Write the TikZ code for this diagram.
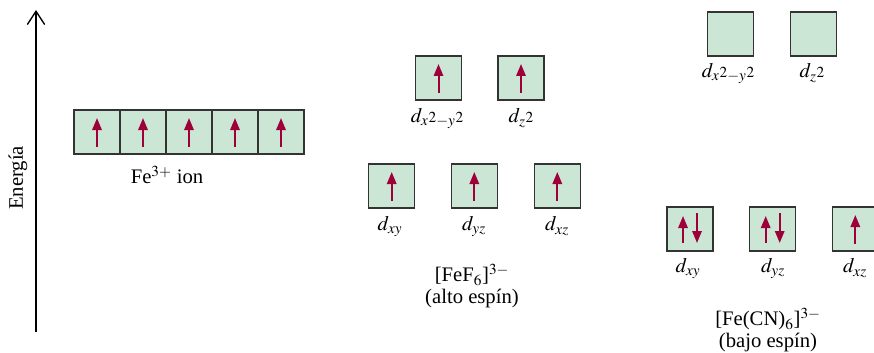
\documentclass[tikz,border=0pt]{standalone}
\usepackage{mathptmx}
\usepackage[no-math]{fontspec}
\setmainfont{Liberation Serif}
\usetikzlibrary{calc,arrows.meta}
\definecolor{orbgreen}{RGB}{204,230,214}
\definecolor{spinred}{RGB}{158,0,58}

\begin{document}
\begin{tikzpicture}[x=0.75pt,y=-0.75pt,
  orb/.style={draw=black!80,fill=orbgreen,line width=0.8pt,minimum width=34.5pt,minimum height=33pt,inner sep=0pt},
  spin/.style={spinred,line width=1.5pt,-{Triangle[length=9pt,width=7pt]}},
  lbl/.style={font=\fontsize{15.5}{16.5}\selectfont,align=center}]
\useasboundingbox (0,0) rectangle (874,353);
% energy axis
\coordinate (ebot) at (36,332);
\coordinate (etop) at (36,10);
\draw[line width=1pt,-{Straight Barb[length=10pt,width=13pt]}] (ebot) -- (etop);
\node[lbl,rotate=90] (energia) at (18,178) {Energía};
% free ion
\foreach \i in {1,...,5} {
  \node[orb] (fe\i) at ({51+46*\i},132) {};
  \draw[spin] ($(fe\i.center)+(0,15)$) -- ($(fe\i.center)+(0,-14)$);
}
\node[lbl] (feion) at (167,175) {Fe$^{3+}$ ion};
% high spin
\foreach \n/\x/\y in {hx2/438.5/78, hz2/521/78, hxy/391.7/186, hyz/474.3/186, hxz/557.3/186} {
  \node[orb] (\n) at (\x,\y) {};
  \draw[spin] ($(\n.center)+(0,15)$) -- ($(\n.center)+(0,-14)$);
}
\node[lbl] (lhx2) at (437,118) {$d_x{\scriptstyle 2}_{-y}{\scriptstyle 2}$};
\node[lbl] (lhz2) at (521,118) {$d_z{\scriptstyle 2}$};
\node[lbl] (lhxy) at (390,226) {$d_{xy}$};
\node[lbl] (lhyz) at (474,226) {$d_{yz}$};
\node[lbl] (lhxz) at (557,226) {$d_{xz}$};
\node[lbl] (feF) at (472,286) {[FeF$_6$]$^{3-}$\\(alto espín)};
% low spin
\node[orb] (lx2) at (730.7,34) {};
\node[orb] (lz2) at (813.3,34) {};
\foreach \n/\x in {lxy/690, lyz/772.7} {
  \node[orb] (\n) at (\x,229) {};
  \draw[spin] ($(\n.center)+(-7,14)$) -- ($(\n.center)+(-7,-13)$);
  \draw[spin] ($(\n.center)+(7,-16)$) -- ($(\n.center)+(7,14)$);
}
\node[orb] (lxz) at (855.3,229) {};
\draw[spin] ($(lxz.center)+(0,15)$) -- ($(lxz.center)+(0,-14)$);
\node[lbl] (llx2) at (728,73) {$d_x{\scriptstyle 2}_{-y}{\scriptstyle 2}$};
\node[lbl] (llz2) at (812,73) {$d_z{\scriptstyle 2}$};
\node[lbl] (llxy) at (688,268) {$d_{xy}$};
\node[lbl] (llyz) at (773,268) {$d_{yz}$};
\node[lbl] (llxz) at (855,268) {$d_{xz}$};
\node[lbl] (fecn) at (768,330) {[Fe(CN)$_6$]$^{3-}$\\(bajo espín)};
\end{tikzpicture}
\end{document}
